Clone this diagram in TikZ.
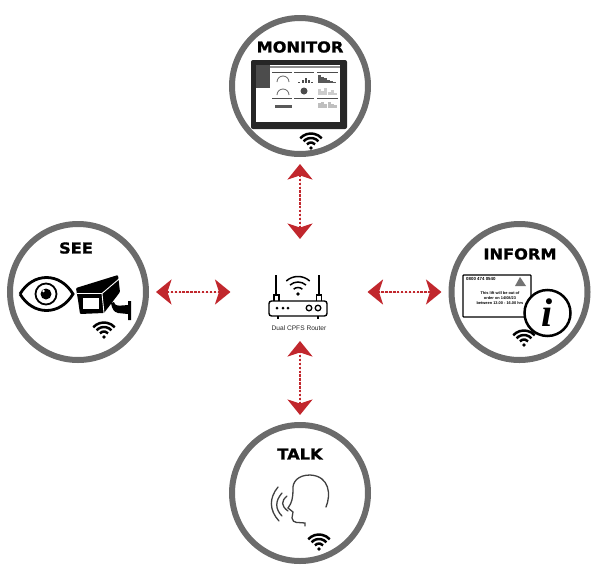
\documentclass[tikz,border=0pt]{standalone}
\usepackage{fontspec}
\newfontfamily\titlefont[FakeStretch=1.08, BoldFeatures={FakeBold=1.2}]{DejaVu Sans}
\newfontfamily\smallfont{Liberation Sans}
\newfontfamily\infofont{Liberation Serif}
\usetikzlibrary{arrows.meta}
\definecolor{ringgray}{HTML}{6B6B6B}
\definecolor{linkred}{HTML}{C1272D}

\begin{document}
\begin{tikzpicture}[
  x=1pt, y=-1pt,
  hub/.style={circle, draw=ringgray, line width=6pt, minimum size=136pt, inner sep=0pt, outer sep=10pt},
  hubtitle/.style={font=\titlefont\bfseries\fontsize{15}{15}\selectfont, inner sep=0pt},
  link/.style={draw=linkred, fill=linkred, line width=2.4pt, dash pattern=on 2.4pt off 1.5pt,
    {Stealth[length=15.5pt, width=25pt, inset=4pt]}-{Stealth[length=15.5pt, width=25pt, inset=4pt]}},
  wave/.style={line width=2.5pt, black},
  thinline/.style={line width=1.4pt, black},
  wifi/.pic={
    \draw[wave] (222:5.5) arc (222:318:5.5);
    \draw[wave] (222:10) arc (222:318:10);
    \draw[wave] (222:14.5) arc (222:318:14.5);
    \fill (0,0) circle (1.8);
  }
]
\useasboundingbox (0,0) rectangle (600,576);

\node[hub] (monitor) at (300,86) {};
\node[hub] (see) at (78,292) {};
\node[hub] (inform) at (519.5,292) {};
\node[hub] (talk) at (300,493) {};
\node[minimum width=137pt, minimum height=102pt, outer sep=0pt] (router) at (299,290) {};

\node[hubtitle] (monitortitle) at (300,47) {MONITOR};
\node[hubtitle] (seetitle) at (76,248) {SEE};
\node[hubtitle] (informtitle) at (520,254) {INFORM};
\node[hubtitle] (talktitle) at (300,454) {TALK};

\draw[link] (monitor.south) -- (monitor.south |- router.north);
\draw[link] (talk.north) -- (talk.north |- router.south);
\draw[link] (see.east) -- (see.east -| router.west);
\draw[link] (inform.west) -- (inform.west -| router.east);

% router
\node[font=\smallfont\fontsize{6.6}{7}\selectfont, text=black!85, inner sep=0pt] (routerlabel) at (299,328) {Dual CPFS Router};
\draw[thinline] (276,275) -- (276,295);
\draw[thinline] (319,275) -- (319,295);
\draw[thinline, fill=white] (274,301) -- (274,295) -- (279,295) -- (279,301);
\draw[thinline, fill=white] (316.5,301) -- (316.5,295) -- (321.5,295) -- (321.5,301);
\draw[thinline, rounded corners=2.5pt] (269,301) rectangle (327,316);
\draw[thinline] (278,316) -- (278,318.5);
\draw[thinline] (318,316) -- (318,318.5);
\foreach \dotx in {277,283,288} \fill (\dotx,308) circle (1.5);
\draw[line width=1.3pt] (309,308) circle (2.8);
\draw[line width=1.3pt] (318,308) circle (2.8);
\begin{scope}[shift={(298,294)}]
  \draw[line width=1.5pt] (228:6.5) arc (228:312:6.5);
  \draw[line width=1.5pt] (228:12) arc (228:312:12);
  \draw[line width=1.5pt] (228:17.5) arc (228:312:17.5);
  \fill (0,0) circle (1.8);
\end{scope}

% tablet
\fill[black!85, rounded corners=2pt] (251,60) rectangle (347,129);
\fill[white] (256,65) rectangle (340,122);
\fill[black!70] (256,65) rectangle (270,88);
\fill[black!45] (270,66) rectangle (340,68);
\foreach \rowy in {72,98} {
  \draw[black!70, line width=0.9pt] (272,\rowy) -- (292,\rowy);
  \draw[black!70, line width=0.9pt] (294,\rowy) -- (314,\rowy);
  \draw[black!70, line width=0.9pt] (317,\rowy) -- (338,\rowy);
}
\draw[black!60, line width=0.8pt] (277,82) arc (180:360:6);
\draw[black!60, line width=0.8pt] (277,95) arc (180:360:6);
\foreach \barx/\bary in {298/1.5,302/3,305/5,308/3,311/1.5} \fill[black!70] (\barx,83) rectangle ++(2,-\bary);
\foreach \barx/\bary in {318/8,321/6,324/5,327/3,330/2,333/1.5} \fill[black!65] (\barx,83) rectangle ++(2.5,-\bary);
\fill[black!70] (304,91) circle (3.5);
\foreach \barx/\bary in {318/6,321/4,324/7,328/3,331/5,334/2} \fill[black!20] (\barx,95) rectangle ++(2.5,-\bary);
\fill[black!65] (275,105) rectangle (292,108);
\foreach \barx/\bary in {318/5,321/6,324/4,328/6,331/4,334/3} \fill[black!25] (\barx,108) rectangle ++(2.5,-\bary);
\path (311,148) pic {wifi};

% eye and camera
\draw[line width=2.8pt] (20,294) .. controls (33,272) and (60,272) .. (73,294) .. controls (60,316) and (33,316) .. (20,294);
\draw[line width=1.8pt] (46,294) circle (10.5);
\fill (46,294) circle (5.5);
\fill[white] (43.5,291) circle (1.3);
\fill[rounded corners=1pt] (76,288) -- (118,275) -- (120,292) -- (104,313) -- (80,314) -- (78,300) -- cycle;
\draw[white, line width=0.9pt] (77,293.5) -- (102,293.5) -- (119,279);
\draw[white, line width=0.9pt] (102,293.5) -- (104,313);
\fill[white] (83,298) rectangle (99,309);
\fill (111,303) -- (114,302) .. controls (115,306) and (117,306) .. (128,305) -- (128,301) -- (131,301) -- (131,320) -- (128,320) -- (128,314) -- (118,313) .. controls (114,312) and (112,309) .. cycle;
\path (104,337) pic {wifi};

% notice
\draw[line width=1.3pt, fill=white, rounded corners=0.8pt] (463,275) rectangle (531,317);
\node[font=\smallfont\bfseries\fontsize{4.4}{4.4}\selectfont, inner sep=0pt, anchor=west] (phonetext) at (466,278.5) {0800 474 0540};
\fill[black!55] (515,286) -- (520,277) -- (526,286) -- cycle;
\node[font=\smallfont\bfseries\fontsize{3.9}{5.1}\selectfont, align=center, inner sep=0pt] (noticetext) at (500,298) {This lift will be out of\\order on 14/08/23\\between 13.00 - 16.00 hrs};
\draw[line width=2.5pt, fill=white] (547.5,313) circle (23);
\node[font=\infofont\bfseries\itshape\fontsize{40}{40}\selectfont, inner sep=0pt] (infoletter) at (547.5,313) {i};
\path (524,345) pic {wifi};

% head
\draw[black!75, line width=1.3pt, line cap=round] (326,507) .. controls (331,495) and (330,476) .. (310,475) .. controls (298,475) and (292,482) .. (293,490)
  .. controls (293,497) and (292,503) .. (288,508) -- (293,512) -- (292,518) .. controls (293,524) and (298,522) .. (305,523) -- (305,526);
\draw[black!75, line width=1.3pt, line cap=round] (278,487) .. controls (269,498) and (269,510) .. (279,521);
\draw[black!75, line width=1.3pt, line cap=round] (282,493) .. controls (275,501) and (275,509) .. (282,516);
\draw[black!75, line width=1.3pt, line cap=round] (287,496) .. controls (281,501) and (281,506) .. (288,511);
\path (319,549) pic {wifi};
\end{tikzpicture}
\end{document}
